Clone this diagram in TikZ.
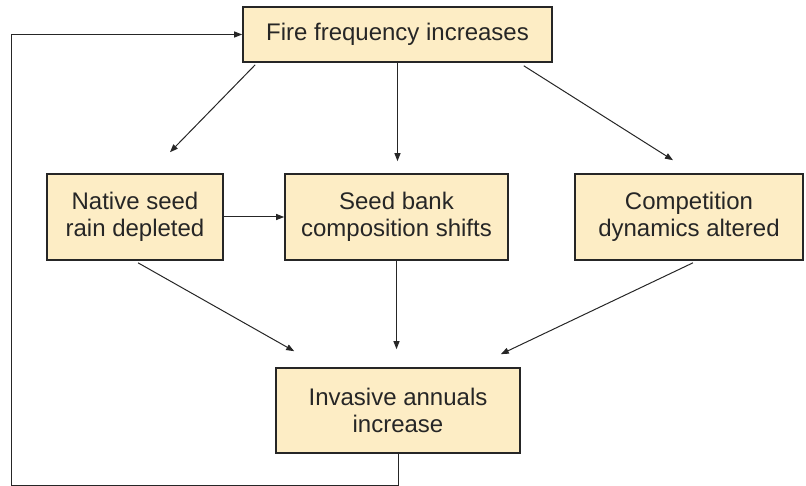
\documentclass[tikz,border=0pt]{standalone}
\usepackage{fontspec}
\setmainfont{Liberation Sans}
\usepackage{tikz}
\usetikzlibrary{arrows.meta,calc}
\definecolor{boxfill}{RGB}{253,237,197}
\definecolor{boxline}{RGB}{38,38,38}
\tikzset{
	box/.style={shape=rectangle, draw=boxline, line width=1.6pt, fill=boxfill, align=center, inner sep=0, text=black!85, font=\fontsize{24}{27}\selectfont},
	arr/.style={draw=black!85, line width=1pt, -{Triangle[length=8pt,width=6pt]}}
}

\begin{document}
\begin{tikzpicture}[x=1pt, y=-1pt]
	% Boxes and arrows:
	\useasboundingbox (0, 0) rectangle (806, 486);
	\node[box, minimum width=309pt, minimum height=55pt] (fire) at (397.5, 34.5) {Fire frequency increases};
	\node[box, minimum width=176pt, minimum height=86pt] (native) at (135, 217) {Native seed\\rain depleted};
	\node[box, minimum width=223pt, minimum height=86pt] (seed) at (396.5, 217) {Seed bank\\composition shifts};
	\node[box, minimum width=228pt, minimum height=86pt] (comp) at (689, 217) {Competition\\dynamics altered};
	\node[box, minimum width=244pt, minimum height=85pt] (inv) at (398, 410.5) {Invasive annuals\\increase};
	\draw[arr] ($(fire.south west)+(13,2)$) -- ($(native.north)+(35,-21)$);
	\draw[arr, shorten >=12pt] (fire.south) -- (fire.south |- seed.north);
	\draw[arr] ($(fire.south east)+(-29,3)$) -- ($(comp.north)+(-16,-13)$);
	\draw[arr] (native.east) -- (native.east -| seed.west);
	\draw[arr] ($(native.south)+(3,2)$) -- ($(inv.north west)+(19,-16)$);
	\draw[arr, shorten >=18pt] (seed.south) -- (seed.south |- inv.north);
	\draw[arr] ($(comp.south)+(4,2)$) -- ($(inv.north east)+(-20,-13)$);
	\coordinate (corner) at (11, 485);
	\draw[arr] (inv.south) |- (corner) |- (fire.west);
\end{tikzpicture}
\end{document}
